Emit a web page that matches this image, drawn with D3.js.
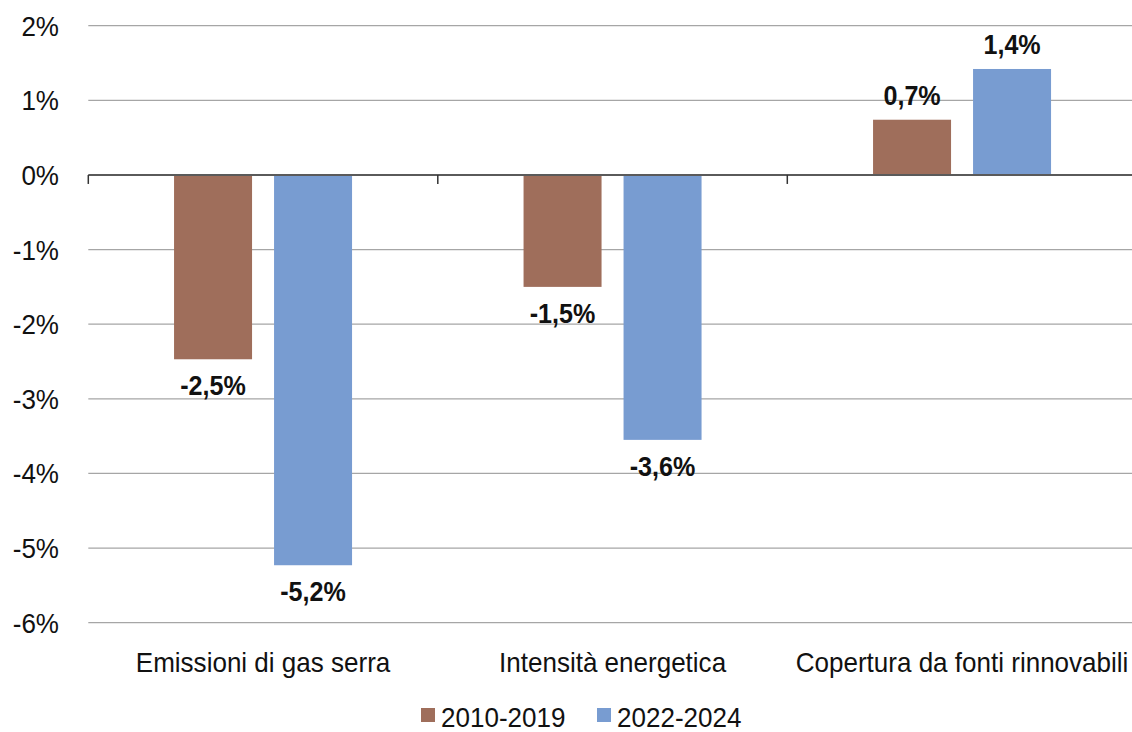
<!DOCTYPE html>
<html><head><meta charset="utf-8">
<script src="https://cdn.jsdelivr.net/npm/d3@7"></script>
<style>
html,body{margin:0;padding:0;background:#fff;}
text{font-family:"Liberation Sans",Arial,sans-serif;}
</style></head>
<body><svg id="c" width="1132" height="732"></svg>
<script>
const categories = ["Emissioni di gas serra", "Intensità energetica", "Copertura da fonti rinnovabili"];
const seriesNames = ["2010-2019", "2022-2024"];
const values2010_2019 = [-2.47, -1.50, 0.74];
const values2022_2024 = [-5.23, -3.55, 1.42];
const labels2010_2019 = ["-2,5%", "-1,5%", "0,7%"];
const labels2022_2024 = ["-5,2%", "-3,6%", "1,4%"];
const yTicks = [2, 1, 0, -1, -2, -3, -4, -5, -6];
const colors = ["#9f6e5b", "#789cd1"];

const SX = 0.93;
const svg = d3.select("#c");
const x = d3.scaleBand().domain(categories).range([88.3, 1136.8]).paddingInner(0).paddingOuter(0);
const y = d3.scaleLinear().domain([-6, 2]).range([622.7, 25.7]);
const groupOffset = (x.bandwidth() - 178) / 2;
const xs = d3.scaleBand().domain(seriesNames).range([groupOffset, groupOffset + 178]).paddingInner(0.22).paddingOuter(0);

function addText(parent, tx, ty, str, size, anchor, weight) {
  const gg = parent.append("g").attr("transform", `translate(${tx},${ty}) scale(${SX},1)`);
  gg.append("text").attr("x", 0).attr("y", 0)
    .attr("text-anchor", anchor).attr("font-size", size)
    .attr("font-weight", weight || "normal").attr("fill", "#111").text(str);
}

// gridlines
svg.append("g").selectAll("line").data(yTicks.filter(d => d !== 0)).join("line")
  .attr("x1", 88.3).attr("x2", 1136.8)
  .attr("y1", d => y(d)).attr("y2", d => y(d))
  .attr("stroke", "#a6a6a6").attr("stroke-width", 1.2);

// y tick labels
const yl = svg.append("g");
yTicks.forEach(d => addText(yl, 59, y(d) + 10, d + "%", 28, "end"));

const series = [
  {name: seriesNames[0], vals: values2010_2019, labels: labels2010_2019, color: colors[0]},
  {name: seriesNames[1], vals: values2022_2024, labels: labels2022_2024, color: colors[1]}
];

const g = svg.append("g");
const lbl = svg.append("g");
series.forEach(s => {
  g.selectAll(null).data(categories).join("rect")
    .attr("x", c => x(c) + xs(s.name))
    .attr("width", xs.bandwidth())
    .attr("y", (c, i) => y(Math.max(0, s.vals[i])))
    .attr("height", (c, i) => Math.abs(y(s.vals[i]) - y(0)))
    .attr("fill", s.color);
  categories.forEach((c, i) => {
    const v = s.vals[i];
    addText(lbl, x(c) + xs(s.name) + xs.bandwidth() / 2,
      v < 0 ? y(v) + 36 : y(v) - 15, s.labels[i], 27, "middle", "bold");
  });
});

// zero axis line
svg.append("line").attr("x1", 88.3).attr("x2", 1136.8).attr("y1", y(0)).attr("y2", y(0))
  .attr("stroke", "#5a5a5a").attr("stroke-width", 2);
// category ticks
const boundaries = categories.map(c => x(c)).concat([x(categories[categories.length-1]) + x.bandwidth()]);
svg.append("g").selectAll("line").data(boundaries).join("line")
  .attr("x1", d => d).attr("x2", d => d).attr("y1", y(0)).attr("y2", y(0) + 9)
  .attr("stroke", "#333").attr("stroke-width", 1.5);

// category labels
const cl = svg.append("g");
categories.forEach(c => addText(cl, x(c) + x.bandwidth() / 2, 672, c, 28, "middle"));

// legend
const legendX = [421, 597];
const lg = svg.append("g");
series.forEach((s, i) => {
  lg.append("rect").attr("x", legendX[i]).attr("y", 708).attr("width", 14).attr("height", 14).attr("fill", s.color);
  addText(lg, legendX[i] + 20, 727, s.name, 28, "start");
});
</script></body></html>
